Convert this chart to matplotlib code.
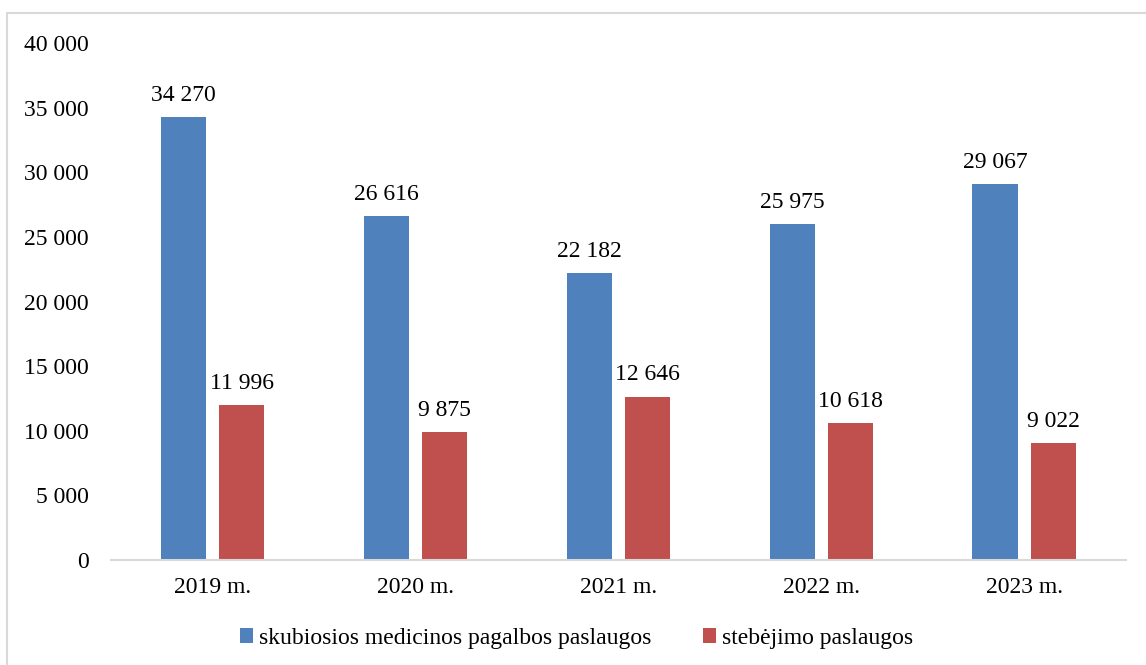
import numpy as np
import matplotlib.pyplot as plt
from matplotlib.patches import Rectangle

years = ['2019 m.', '2020 m.', '2021 m.', '2022 m.', '2023 m.']
skubiosios = [34270, 26616, 22182, 25975, 29067]
stebejimo = [11996, 9875, 12646, 10618, 9022]
series_names = ['skubiosios medicinos pagalbos paslaugos', 'stebėjimo paslaugos']


def fmt(v):
    return f'{int(v):,}'.replace(',', ' ')


plt.rcParams['font.family'] = ['Liberation Serif', 'DejaVu Serif']

fig = plt.figure(figsize=(11.46, 6.65), dpi=100)
ax = fig.add_axes([0.0969, 0.1579, 0.8856, 0.7774])

x = np.arange(len(years))
w = 0.226
off = 0.143
b1 = ax.bar(x - off, skubiosios, w, color='#4F81BD', label=series_names[0])
b2 = ax.bar(x + off, stebejimo, w, color='#C0504D', label=series_names[1])

for bars, vals in ((b1, skubiosios), (b2, stebejimo)):
    for r, v in zip(bars, vals):
        ax.annotate(fmt(v), (r.get_x() + r.get_width() / 2, v), xytext=(0, 8),
                    textcoords='offset points', ha='center', va='bottom', fontsize=17)

ax.set_xlim(-0.5, len(years) - 0.5)
ax.set_ylim(0, 40000)
ax.set_yticks(range(0, 40001, 5000))
ax.set_yticklabels([fmt(t) for t in range(0, 40001, 5000)], fontsize=17)
ax.set_xticks(x)
ax.set_xticklabels(years, fontsize=17)
ax.tick_params(axis='both', length=0)
ax.tick_params(axis='y', pad=16)
ax.tick_params(axis='x', pad=12)
for s in ('top', 'right', 'left'):
    ax.spines[s].set_visible(False)
ax.spines['bottom'].set_color('#D9D9D9')
ax.spines['bottom'].set_linewidth(1.5)

fig.legend(loc='center', bbox_to_anchor=(0.503, 0.04), ncol=2, frameon=False,
           fontsize=17, handlelength=0.55, handleheight=0.55, handletextpad=0.25,
           columnspacing=2.2)

# outer border of the chart area
fig.patches.append(Rectangle((7 / 1146, -0.1), 1.2, 0.1 + (665 - 13) / 665,
                             transform=fig.transFigure, fill=False,
                             edgecolor='#D9D9D9', linewidth=1.5))

fig.savefig('out.png', dpi=100)
